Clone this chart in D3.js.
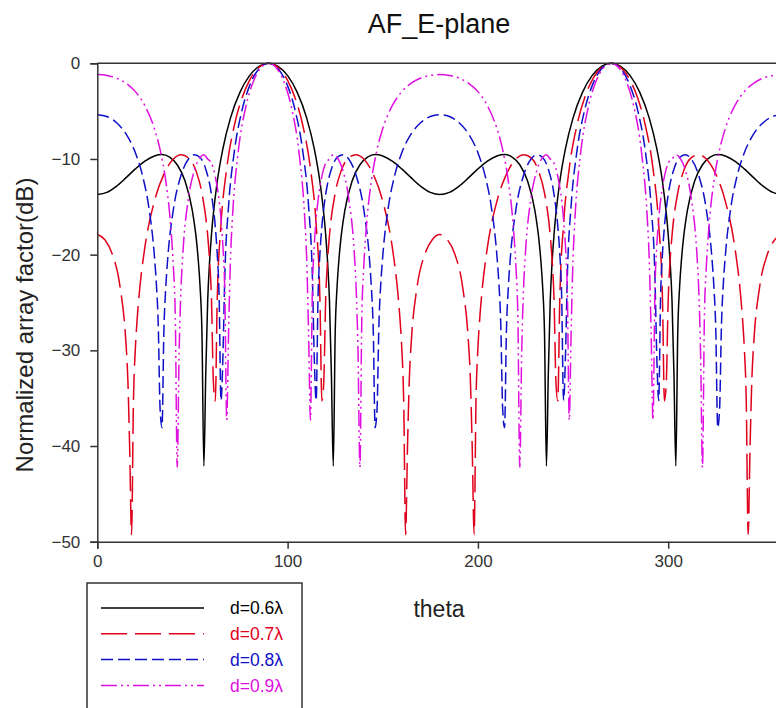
<!DOCTYPE html>
<html>
<head>
<meta charset="utf-8">
<script src="https://cdn.jsdelivr.net/npm/d3@7"></script>
<style>
  body { margin: 0; background: #fff; }
  text { font-family: "Liberation Sans", Arial, sans-serif; }
</style>
</head>
<body>
<div id="d3-container"></div>
<script>
/**
 * CONSTANTS AND GLOBALS
 * */
const width = 776,
  height = 708,
  margin = { top: 63.3, left: 97.3 },
  plotW = 685.1,   // 0..360 runs past the right edge of the picture
  plotH = 478.4;

// theta (deg) and normalized AF (dB) per curve
const theta06 = [0,5,10,15,20,25,30,34,38,42,46,50,52,53,54,55,56,57,58,59,60,63,66,70,75,80,85,90,
  95,100,105,110,114,117,120,121,122,123,124,125,126,127,128,130,134,138,142,146,150,155,160,165,170,175,180,
  185,190,195,200,205,210,214,218,222,226,230,232,233,234,235,236,237,238,239,240,243,246,250,255,260,265,270,
  275,280,285,290,294,297,300,301,302,303,304,305,306,307,308,310,314,318,322,326,330,335,340,345,350,355,360];
const af06 = [-13.72,-13.49,-12.86,-11.98,-11.04,-10.22,-9.68,-9.54,-9.80,-10.60,-12.24,-15.46,-18.33,-20.43,-23.33,-28.25,-42.10,-32.40,-24.84,-20.75,-17.90,-12.40,-8.92,-5.70,-3.01,-1.29,-0.32,0,
  -0.32,-1.29,-3.01,-5.70,-8.92,-12.40,-17.90,-20.75,-24.84,-32.40,-42.10,-28.25,-23.33,-20.43,-18.33,-15.46,-12.24,-10.60,-9.80,-9.54,-9.68,-10.22,-11.04,-11.98,-12.86,-13.49,-13.72,
  -13.49,-12.86,-11.98,-11.04,-10.22,-9.68,-9.54,-9.80,-10.60,-12.24,-15.46,-18.33,-20.43,-23.33,-28.25,-42.10,-32.40,-24.84,-20.75,-17.90,-12.40,-8.92,-5.70,-3.01,-1.29,-0.32,0,
  -0.32,-1.29,-3.01,-5.70,-8.92,-12.40,-17.90,-20.75,-24.84,-32.40,-42.10,-28.25,-23.33,-20.43,-18.33,-15.46,-12.24,-10.60,-9.80,-9.54,-9.68,-10.22,-11.04,-11.98,-12.86,-13.49,-13.72];

const theta07 = [0,4,8,12,15,16,17,18,19,20,21,22,25,30,35,40,44,48,52,55,58,59,60,61,62,63,65,68,72,76,80,85,90,
  95,100,104,108,112,115,117,118,119,120,121,122,125,128,132,136,140,145,150,155,158,159,160,161,162,163,164,165,168,172,176,180,
  184,188,192,195,196,197,198,199,200,201,202,205,210,215,220,224,228,232,235,238,239,240,241,242,243,245,248,252,256,260,265,270,
  275,280,284,288,292,295,297,298,299,300,301,302,305,308,312,316,320,325,330,335,338,339,340,341,342,343,344,345,348,352,356,360];
const af07 = [-17.90,-18.44,-20.01,-23.41,-29.06,-32.79,-40.13,-49.25,-35.19,-29.80,-26.58,-24.16,-19.22,-14.41,-11.58,-10.00,-9.55,-9.89,-11.32,-13.57,-18.00,-20.60,-24.65,-33.31,-35.29,-24.75,-16.83,-10.99,-6.50,-3.65,-1.78,-0.43,0,
  -0.43,-1.78,-3.65,-6.50,-10.99,-16.83,-24.75,-35.29,-33.31,-24.65,-20.60,-18.00,-13.57,-11.32,-9.89,-9.55,-10.00,-11.58,-14.41,-19.22,-24.16,-26.58,-29.80,-35.19,-49.25,-40.13,-32.79,-29.06,-23.41,-20.01,-18.44,-17.90,
  -18.44,-20.01,-23.41,-29.06,-32.79,-40.13,-49.25,-35.19,-29.80,-26.58,-24.16,-19.22,-14.41,-11.58,-10.00,-9.55,-9.89,-11.32,-13.57,-18.00,-20.60,-24.65,-33.31,-35.29,-24.75,-16.83,-10.99,-6.50,-3.65,-1.78,-0.43,0,
  -0.43,-1.78,-3.65,-6.50,-10.99,-16.83,-24.75,-35.29,-33.31,-24.65,-20.60,-18.00,-13.57,-11.32,-9.89,-9.55,-10.00,-11.58,-14.41,-19.22,-24.16,-26.58,-29.80,-35.19,-49.25,-40.13,-32.79,-29.06,-23.41,-20.01,-18.44,-17.90];

const theta08 = [0,5,10,15,20,24,27,30,31,32,33,34,35,36,37,40,44,48,51,54,57,60,62,63,64,65,66,67,69,72,76,80,85,90,
  95,100,104,108,111,113,114,115,116,117,118,120,123,126,129,132,136,140,143,144,145,146,147,148,149,150,153,156,160,165,170,175,180,
  185,190,195,200,204,207,210,211,212,213,214,215,216,217,220,224,228,231,234,237,240,242,243,244,245,246,247,249,252,256,260,265,270,
  275,280,284,288,291,293,294,295,296,297,298,300,303,306,309,312,316,320,323,324,325,326,327,328,329,330,333,336,340,345,350,355,360];
const af08 = [-5.37,-5.56,-6.19,-7.36,-9.35,-11.93,-14.95,-20.14,-22.92,-27.16,-36.12,-38.08,-27.84,-23.36,-20.43,-15.25,-11.71,-9.98,-9.55,-9.85,-11.07,-13.72,-17.09,-19.84,-24.31,-35.25,-30.68,-22.17,-14.85,-9.24,-4.95,-2.36,-0.56,0,
  -0.56,-2.36,-4.95,-9.24,-14.85,-22.17,-30.68,-35.25,-24.31,-19.84,-17.09,-13.72,-11.07,-9.85,-9.55,-9.98,-11.71,-15.25,-20.43,-23.36,-27.84,-38.08,-36.12,-27.16,-22.92,-20.14,-14.95,-11.93,-9.35,-7.36,-6.19,-5.56,-5.37,
  -5.56,-6.19,-7.36,-9.35,-11.93,-14.95,-20.14,-22.92,-27.16,-36.12,-38.08,-27.84,-23.36,-20.43,-15.25,-11.71,-9.98,-9.55,-9.85,-11.07,-13.72,-17.09,-19.84,-24.31,-35.25,-30.68,-22.17,-14.85,-9.24,-4.95,-2.36,-0.56,0,
  -0.56,-2.36,-4.95,-9.24,-14.85,-22.17,-30.68,-35.25,-24.31,-19.84,-17.09,-13.72,-11.07,-9.85,-9.55,-9.98,-11.71,-15.25,-20.43,-23.36,-27.84,-38.08,-36.12,-27.16,-22.92,-20.14,-14.95,-11.93,-9.35,-7.36,-6.19,-5.56,-5.37];

const theta09 = [0,5,10,15,20,25,30,33,36,38,39,40,41,42,43,44,45,48,51,54,56,58,60,62,64,65,66,67,68,69,70,71,74,78,82,86,90,
  94,98,102,106,109,110,111,112,113,114,115,116,118,120,122,124,126,129,132,135,136,137,138,139,140,141,142,144,147,150,155,160,165,170,175,180,
  185,190,195,200,205,210,213,216,218,219,220,221,222,223,224,225,228,231,234,236,238,240,242,244,245,246,247,248,249,250,251,254,258,262,266,270,
  274,278,282,286,289,290,291,292,293,294,295,296,298,300,302,304,306,309,312,315,316,317,318,319,320,321,322,324,327,330,335,340,345,350,355,360];
const af09 = [-1.18,-1.27,-1.54,-2.07,-2.96,-4.43,-6.82,-9.03,-12.32,-15.68,-18.12,-21.35,-26.58,-42.23,-30.21,-23.44,-19.73,-13.96,-11.18,-9.84,-9.55,-10.01,-10.44,-11.84,-14.32,-16.27,-19.10,-23.87,-37.28,-27.97,-20.32,-16.17,-9.34,-4.58,-1.90,-0.46,0,
  -0.46,-1.90,-4.58,-9.34,-16.17,-20.32,-27.97,-37.28,-23.87,-19.10,-16.27,-14.32,-11.84,-10.44,-10.01,-9.55,-9.84,-11.18,-13.96,-19.73,-23.44,-30.21,-42.23,-26.58,-21.35,-18.12,-15.68,-12.32,-9.03,-6.82,-4.43,-2.96,-2.07,-1.54,-1.27,-1.18,
  -1.27,-1.54,-2.07,-2.96,-4.43,-6.82,-9.03,-12.32,-15.68,-18.12,-21.35,-26.58,-42.23,-30.21,-23.44,-19.73,-13.96,-11.18,-9.84,-9.55,-10.01,-10.44,-11.84,-14.32,-16.27,-19.10,-23.87,-37.28,-27.97,-20.32,-16.17,-9.34,-4.58,-1.90,-0.46,0,
  -0.46,-1.90,-4.58,-9.34,-16.17,-20.32,-27.97,-37.28,-23.87,-19.10,-16.27,-14.32,-11.84,-10.44,-10.01,-9.55,-9.84,-11.18,-13.96,-19.73,-23.44,-30.21,-42.23,-26.58,-21.35,-18.12,-15.68,-12.32,-9.03,-6.82,-4.43,-2.96,-2.07,-1.54,-1.27,-1.18];

const seriesNames = ["d=0.6\u03bb", "d=0.7\u03bb", "d=0.8\u03bb", "d=0.9\u03bb"];
const xTicks = [0, 100, 200, 300];
const yTicks = [0, -10, -20, -30, -40, -50];

let svg;

/**
 * INIT
 * */
function init() {
  svg = d3.select("#d3-container")
    .append("svg")
    .attr("width", width)
    .attr("height", height);

  const x = d3.scaleLinear().domain([0, 360]).range([margin.left, margin.left + plotW]);
  const y = d3.scaleLinear().domain([-50, 0]).range([margin.top + plotH, margin.top]);

  const series = [
    { name: seriesNames[0], t: theta06, v: af06, color: "#000000", dash: null },
    { name: seriesNames[1], t: theta07, v: af07, color: "#e0001c", dash: "26,8" },
    { name: seriesNames[2], t: theta08, v: af08, color: "#1010c8", dash: "12,5" },
    { name: seriesNames[3], t: theta09, v: af09, color: "#e010e0", dash: "16,4,2,4,2,4" }
  ];

  // curves
  const line = d3.line()
    .x(d => x(d[0]))
    .y(d => y(d[1]))
    .curve(d3.curveMonotoneX);

  svg.append("g")
    .selectAll("path")
    .data(series)
    .join("path")
    .attr("fill", "none")
    .attr("stroke", d => d.color)
    .attr("stroke-width", 1.5)
    .attr("stroke-dasharray", d => d.dash)
    .attr("d", d => line(d.t.map((t, i) => [t, d.v[i]])));

  // frame: top line
  svg.append("line")
    .attr("x1", x(0)).attr("x2", width)
    .attr("y1", y(0)).attr("y2", y(0))
    .attr("stroke", "#333").attr("stroke-width", 1.5);

  // axes
  const xAxis = svg.append("g")
    .attr("transform", `translate(0,${y(-50)})`)
    .call(d3.axisBottom(x).tickValues(xTicks).tickSize(7).tickPadding(6));
  const yAxis = svg.append("g")
    .attr("transform", `translate(${x(0)},0)`)
    .call(d3.axisLeft(y).tickValues(yTicks).tickSize(7).tickPadding(10));

  [xAxis, yAxis].forEach(g => {
    g.select(".domain").attr("stroke", "#333").attr("stroke-width", 1.5);
    g.selectAll(".tick line").attr("stroke", "#333").attr("stroke-width", 1.5);
    g.selectAll(".tick text")
      .attr("fill", "#333")
      .style("font-size", "17px")
      .style("font-family", "'Liberation Sans', Arial, sans-serif");
  });

  // title and labels
  svg.append("text")
    .attr("x", 439).attr("y", 33)
    .attr("text-anchor", "middle")
    .attr("fill", "#111")
    .style("font-size", "27px")
    .text("AF_E-plane");

  svg.append("text")
    .attr("x", 439).attr("y", 617)
    .attr("text-anchor", "middle")
    .attr("fill", "#222")
    .style("font-size", "23px")
    .text("theta");

  svg.append("text")
    .attr("transform", "translate(33,325) rotate(-90)")
    .attr("text-anchor", "middle")
    .attr("fill", "#222")
    .style("font-size", "24px")
    .text("Normalized array factor(dB)");

  // legend
  const legend = svg.append("g");
  legend.append("rect")
    .attr("x", 87).attr("y", 583)
    .attr("width", 215).attr("height", 140)
    .attr("fill", "none")
    .attr("stroke", "#333").attr("stroke-width", 1.5);

  const rows = legend.selectAll("g.row")
    .data(series)
    .join("g")
    .attr("class", "row")
    .attr("transform", (d, i) => `translate(0,${608 + i * 25.8})`);

  rows.append("line")
    .attr("x1", 101).attr("x2", 204)
    .attr("stroke", d => d.color)
    .attr("stroke-width", 1.5)
    .attr("stroke-dasharray", d => d.dash);

  rows.append("text")
    .attr("x", 230).attr("dy", "0.35em")
    .attr("fill", d => d.color)
    .style("font-size", "17.5px")
    .text(d => d.name);
}

init();
</script>
</body>
</html>
